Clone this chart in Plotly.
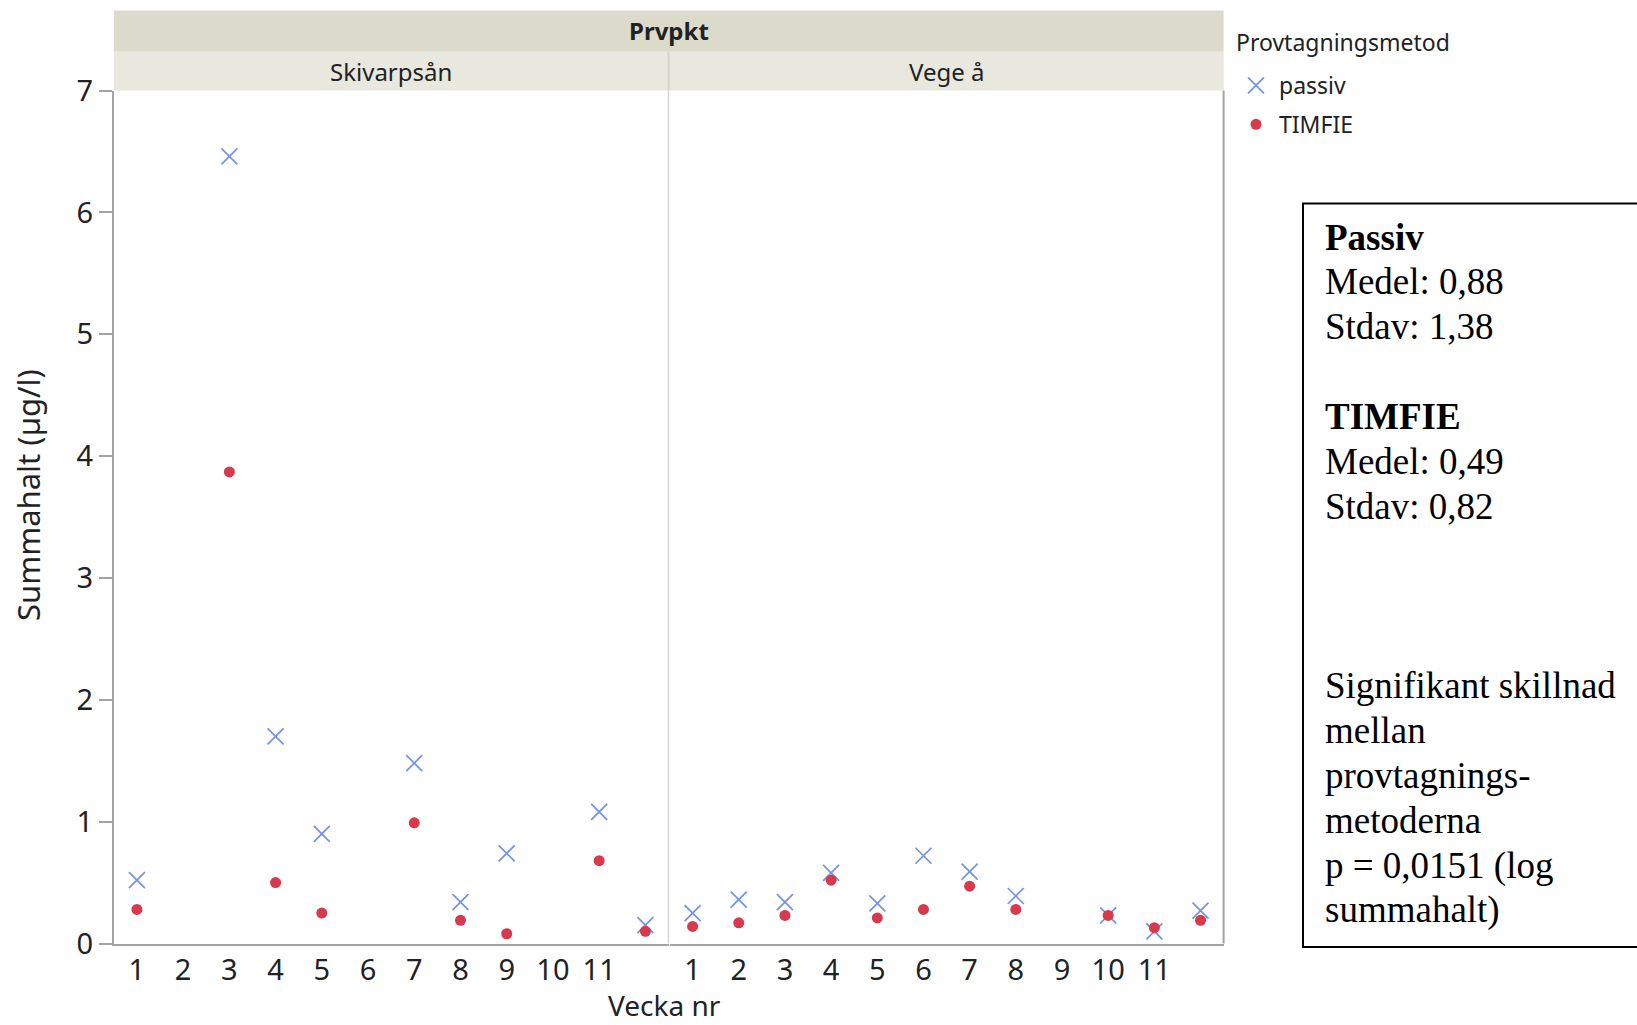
import plotly.graph_objects as go

W, H = 1637, 1025

# ---------------- data ----------------
weeks_skivarp = [1, 3, 4, 5, 7, 8, 9, 11, 12]
passiv_skivarp = [0.52, 6.46, 1.70, 0.90, 1.48, 0.34, 0.74, 1.08, 0.15]
timfie_skivarp = [0.28, 3.87, 0.50, 0.25, 0.99, 0.19, 0.08, 0.68, 0.10]

weeks_vege = [1, 2, 3, 4, 5, 6, 7, 8, 10, 11, 12]
passiv_vege = [0.25, 0.36, 0.34, 0.58, 0.33, 0.72, 0.59, 0.39, 0.23, 0.10, 0.27]
timfie_vege = [0.14, 0.17, 0.23, 0.52, 0.21, 0.28, 0.47, 0.28, 0.23, 0.13, 0.19]

tick_weeks = list(range(1, 12))
tick_labels = [str(w) for w in tick_weeks]
y_ticks = list(range(0, 8))

panel_names = ["Skivarpsån", "Vege å"]
facet_title = "Prvpkt"
legend_title = "Provtagningsmetod"
series_names = ["passiv", "TIMFIE"]

box_lines = [
    ("<b>Passiv</b>", 238.0),
    ("Medel: 0,88", 281.9),
    ("Stdav: 1,38", 326.8),
    ("<b>TIMFIE</b>", 416.6),
    ("Medel: 0,49", 461.4),
    ("Stdav: 0,82", 506.3),
    ("Signifikant skillnad", 685.9),
    ("mellan", 730.8),
    ("provtagnings-", 775.7),
    ("metoderna", 820.6),
    ("p = 0,0151 (log", 865.5),
    ("summahalt)", 910.4),
]

# ---------------- layout helpers ----------------
def px(x):
    return x / W

def py(y):
    return 1 - y / H

PLOT_L, PLOT_M, PLOT_R = 113.8, 668.5, 1223.6
PLOT_T, PLOT_B = 90.5, 943.5
HEAD_T, HEAD_M = 10.4, 51.7

BLUE = "#7292E8"
RED = "#D63A4C"
AXIS_GRAY = "#A3A3A3"
SANS = "Noto Sans"
TXT = "#222222"

fig = go.Figure()

def add_pair(weeks, pas, tim, xa, show):
    fig.add_trace(go.Scatter(
        x=weeks, y=pas, mode="markers", name=series_names[0], legendgroup="p",
        showlegend=show, xaxis=xa, yaxis="y",
        marker=dict(symbol="x-thin", size=16, color=BLUE, line=dict(color=BLUE, width=1.7)),
    ))
    fig.add_trace(go.Scatter(
        x=weeks, y=tim, mode="markers", name=series_names[1], legendgroup="t",
        showlegend=show, xaxis=xa, yaxis="y",
        marker=dict(symbol="circle", size=11, color=RED, line=dict(width=0)),
    ))

add_pair(weeks_skivarp, passiv_skivarp, timfie_skivarp, "x", True)
add_pair(weeks_vege, passiv_vege, timfie_vege, "x2", False)

xcommon = dict(
    range=[0.5, 12.5], tickmode="array", tickvals=tick_weeks, ticktext=tick_labels,
    showline=True, linecolor=AXIS_GRAY, linewidth=2, ticks="", showgrid=False,
    zeroline=False, tickfont=dict(family=SANS, size=29, color=TXT),
    anchor="y", fixedrange=True, automargin=False,
)

fig.update_layout(
    template="none",
    width=W, height=H,
    margin=dict(l=0, r=0, t=0, b=0, autoexpand=False),
    paper_bgcolor="white", plot_bgcolor="white",
    xaxis=dict(domain=[px(PLOT_L), px(PLOT_M)], **xcommon),
    xaxis2=dict(domain=[px(PLOT_M + 1), px(PLOT_R)], **xcommon),
    yaxis=dict(
        domain=[py(PLOT_B), py(PLOT_T)], range=[0, 7], tickmode="array",
        tickvals=y_ticks, ticks="outside", ticklen=13, tickwidth=1.5,
        tickcolor=AXIS_GRAY, showline=True, linecolor=AXIS_GRAY, linewidth=2,
        showgrid=False, zeroline=False, automargin=False, fixedrange=True,
        tickfont=dict(family=SANS, size=29, color=TXT),
    ),
    legend=dict(
        x=px(1233), y=py(64), xanchor="left", yanchor="top",
        font=dict(family=SANS, size=23, color=TXT),
        bgcolor="rgba(0,0,0,0)", borderwidth=0, tracegroupgap=6, itemwidth=36,
    ),
    showlegend=True,
)

shapes = [
    # facet header bands
    dict(type="rect", xref="paper", yref="paper", x0=px(PLOT_L), x1=px(PLOT_R),
         y0=py(HEAD_M), y1=py(HEAD_T), fillcolor="#DCDACB", line=dict(width=0)),
    dict(type="rect", xref="paper", yref="paper", x0=px(PLOT_L), x1=px(PLOT_M),
         y0=py(PLOT_T), y1=py(HEAD_M), fillcolor="#E8E8DF", line=dict(width=0)),
    dict(type="rect", xref="paper", yref="paper", x0=px(PLOT_M), x1=px(PLOT_R),
         y0=py(PLOT_T), y1=py(HEAD_M), fillcolor="#E8E8DF", line=dict(width=0)),
    dict(type="line", xref="paper", yref="paper", x0=px(PLOT_M), x1=px(PLOT_M),
         y0=py(PLOT_T), y1=py(HEAD_M), line=dict(color="#D4D4CB", width=2)),
    # panel separator and right border
    dict(type="line", xref="paper", yref="paper", x0=px(PLOT_M), x1=px(PLOT_M),
         y0=py(PLOT_B), y1=py(PLOT_T), line=dict(color="#D6D6D6", width=1.5)),
    dict(type="line", xref="paper", yref="paper", x0=px(PLOT_R), x1=px(PLOT_R),
         y0=py(PLOT_B), y1=py(PLOT_T), line=dict(color=AXIS_GRAY, width=2)),
    # stats text box
    dict(type="rect", xref="paper", yref="paper", x0=px(1303), x1=px(1650),
         y0=py(947), y1=py(203.6), fillcolor="rgba(0,0,0,0)", line=dict(color="black", width=2)),
]
fig.update_layout(shapes=shapes)

ann = [
    dict(text=f"<b>{facet_title}</b>", x=px((PLOT_L + PLOT_R) / 2), y=py(30), yanchor="middle",
         font=dict(family=SANS, size=24, color=TXT)),
    dict(text=panel_names[0], x=px((PLOT_L + PLOT_M) / 2), y=py(71), yanchor="middle",
         font=dict(family=SANS, size=24, color=TXT)),
    dict(text=panel_names[1], x=px((PLOT_M + PLOT_R) / 2), y=py(71), yanchor="middle",
         font=dict(family=SANS, size=24, color=TXT)),
    dict(text="Vecka nr", x=px(664), y=0, yanchor="bottom", borderpad=0,
         font=dict(family=SANS, size=28, color=TXT)),
    dict(text="Summahalt (µg/l)", x=px(28), y=py(495), textangle=-90, yanchor="middle",
         font=dict(family=SANS, size=31, color=TXT)),
]
for a in ann:
    a.update(xref="paper", yref="paper", showarrow=False, xanchor="center")

ann.append(dict(text=legend_title, x=px(1234), y=py(42), xref="paper", yref="paper",
                showarrow=False, xanchor="left", yanchor="middle",
                font=dict(family=SANS, size=23, color=TXT)))

for txt, yc in box_lines:
    ann.append(dict(text=txt, x=px(1322.8), y=py(yc), xref="paper", yref="paper",
                    showarrow=False, xanchor="left", yanchor="middle",
                    font=dict(family="Liberation Serif", size=37, color="black")))

fig.update_layout(annotations=ann)

fig.write_html("out.html")
